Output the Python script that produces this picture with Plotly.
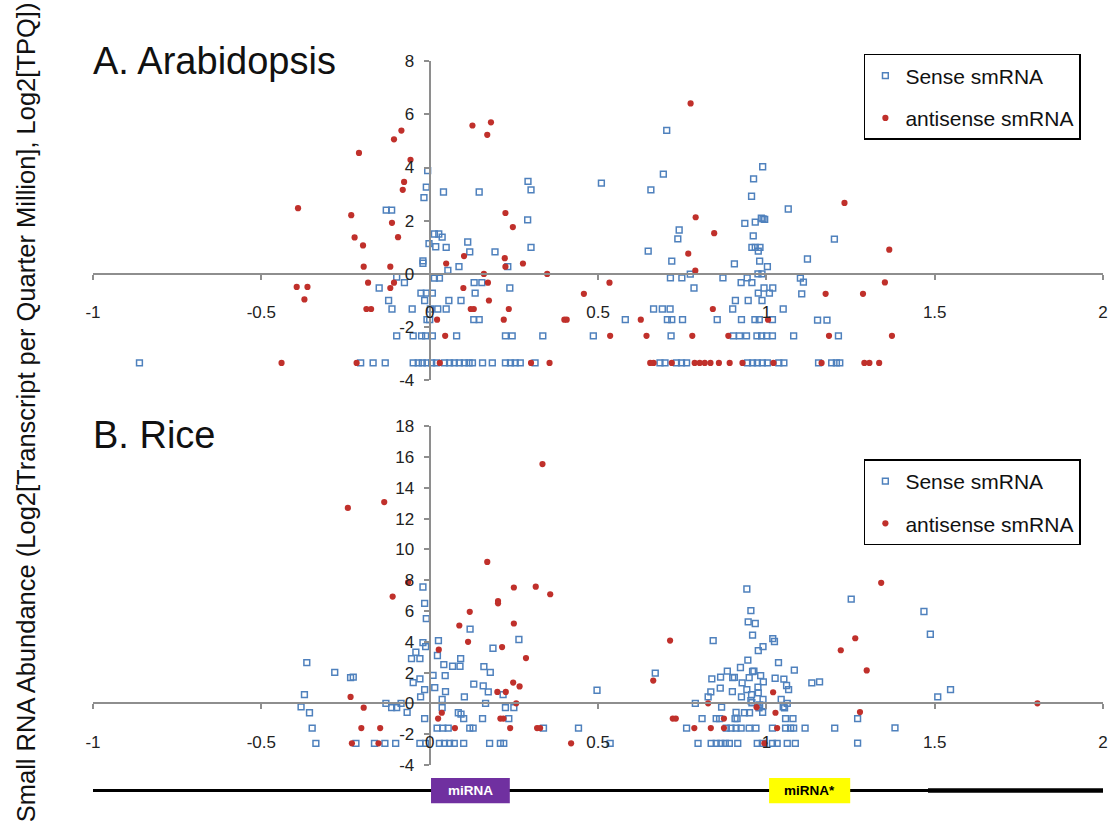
import plotly.graph_objects as go

# ---------------- data ----------------
# Panel A: Arabidopsis
a_sense = [
    (-0.862, -3.35),
    (-0.006, 3.88), (-0.010, 3.26), (-0.017, 2.87), (0.041, 3.08), (0.147, 3.08),
    (-0.129, 2.40), (-0.113, 2.40), (0.014, 1.50), (0.027, 1.50), (0.037, 1.38),
    (-0.002, 1.14), (0.018, 1.02), (0.049, 1.00), (-0.020, 0.49), (-0.020, 0.40),
    (0.054, 0.13), (0.087, 0.27), (0.113, 1.20), (0.119, 0.83), (0.194, 0.83),
    (0.292, 3.48), (0.301, 3.16), (0.291, 2.03), (0.301, 1.00), (0.232, 0.27),
    (-0.098, -0.12), (-0.075, -0.33), (-0.150, -0.53), (-0.122, -1.00), (-0.112, -1.32),
    (-0.052, -1.32), (-0.026, -0.72), (-0.010, -0.72), (0.008, -0.72), (-0.015, -1.00),
    (0.014, -0.16), (0.029, -0.16), (0.002, -1.32), (0.024, -1.32), (0.049, -1.32),
    (0.057, -1.00), (0.093, -1.00), (0.135, -0.72), (0.132, -0.33), (0.155, -0.33),
    (-0.008, -1.72), (0.000, -1.72), (0.131, -1.72), (0.147, -1.72), (0.238, -0.53),
    (-0.098, -2.33), (-0.049, -2.33), (-0.024, -2.33), (-0.012, -2.33), (0.008, -2.33),
    (0.080, -2.33), (0.225, -2.33), (0.245, -2.33), (0.336, -2.33),
    (-0.205, -3.35), (-0.168, -3.35), (-0.132, -3.35), (-0.049, -3.35), (-0.034, -3.35),
    (-0.022, -3.35), (-0.008, -3.35), (0.006, -3.35), (0.020, -3.35), (0.044, -3.35),
    (0.059, -3.35), (0.073, -3.35), (0.088, -3.35), (0.103, -3.35), (0.117, -3.35),
    (0.127, -3.35), (0.157, -3.35), (0.186, -3.35), (0.225, -3.35), (0.240, -3.35),
    (0.254, -3.35), (0.269, -3.35), (0.313, -3.35),
    (0.704, 5.40), (0.510, 3.41), (0.694, 3.75), (0.657, 3.16), (0.989, 4.03),
    (0.962, 3.57), (0.956, 2.92), (1.065, 2.44), (0.936, 1.90), (0.967, 1.95),
    (0.985, 2.10), (0.990, 2.07), (0.995, 2.05), (0.741, 1.65), (0.737, 1.32),
    (0.961, 1.43), (0.957, 1.00), (0.967, 1.00), (0.981, 1.00), (0.976, 0.86),
    (0.649, 0.86), (0.719, 0.48), (0.905, 0.38), (0.980, 0.48), (1.003, 0.27),
    (0.715, -0.15), (0.749, -0.15), (0.774, -0.01), (0.785, -0.53), (0.871, -0.15),
    (0.943, -0.15), (0.925, -0.33), (0.957, -0.33), (0.975, 0.00), (0.987, 0.00),
    (0.993, -0.53), (1.019, -0.53), (0.976, -0.72), (1.009, -0.72), (0.908, -1.00),
    (0.946, -1.00), (0.987, -1.00), (0.665, -1.32), (0.691, -1.32), (0.714, -1.32),
    (0.900, -1.32), (1.050, -1.32), (0.581, -1.72), (0.706, -1.72), (0.719, -1.72),
    (0.751, -1.72), (0.854, -1.72), (0.926, -1.72), (0.966, -1.72), (0.979, -1.72),
    (1.018, -1.72), (0.486, -2.33), (0.717, -2.33), (0.902, -2.33), (0.920, -2.33),
    (0.941, -2.33), (0.972, -2.33), (0.986, -2.33), (1.001, -2.33), (1.018, -2.33),
    (1.081, -2.33),
    (0.684, -3.35), (0.699, -3.35), (0.733, -3.35), (0.748, -3.35), (0.763, -3.35),
    (0.944, -3.35), (0.959, -3.35), (0.973, -3.35), (0.988, -3.35), (1.003, -3.35),
    (1.037, -3.35), (1.052, -3.35),
    (1.202, 1.31), (1.122, 0.56), (1.101, -0.16), (1.110, -0.31), (1.105, -0.75),
    (1.152, -1.74), (1.180, -1.74), (1.214, -2.33),
    (1.155, -3.35), (1.194, -3.35), (1.208, -3.35), (1.218, -3.35),
]
a_antisense = [
    (-0.440, -3.35), (-0.391, 2.47), (-0.395, -0.49), (-0.363, -0.49), (-0.372, -0.96),
    (-0.210, 4.55), (-0.106, 5.06), (-0.084, 5.39), (-0.057, 4.29), (-0.076, 3.46),
    (-0.080, 3.16), (-0.233, 2.21), (-0.112, 1.92), (-0.223, 1.37), (-0.198, 1.07),
    (-0.094, 1.38), (-0.196, 0.27), (-0.117, 0.27), (-0.183, -0.33), (-0.117, -0.53),
    (-0.106, -0.33), (-0.188, -1.32), (-0.174, -1.32), (-0.217, -3.35),
    (0.127, 5.58), (0.182, 5.70), (0.171, 5.23), (0.049, 0.39), (0.102, 0.67),
    (0.161, 0.00), (0.100, -0.53), (0.173, -0.33), (0.176, -1.00), (0.122, -1.32),
    (0.131, -1.32), (0.022, -1.72), (0.046, -2.33), (0.030, -3.35), (0.225, 2.29),
    (0.247, 1.76), (0.223, 0.59), (0.225, 0.27), (0.277, 0.39), (0.235, -1.32),
    (0.220, -1.72), (0.349, 0.00), (0.301, -3.35), (0.356, -3.35),
    (0.775, 6.41), (0.790, 2.13), (0.845, 1.53), (0.768, 0.76), (0.789, 0.12),
    (0.534, -0.33), (0.458, -0.75), (0.400, -1.72), (0.407, -1.72), (0.627, -1.72),
    (0.841, -1.32), (1.005, -1.72), (0.536, -2.33), (0.644, -2.33), (0.780, -2.33),
    (0.887, -2.33),
    (0.655, -3.35), (0.665, -3.35), (0.719, -3.35), (0.787, -3.35), (0.802, -3.35),
    (0.817, -3.35), (0.834, -3.35), (0.859, -3.35), (0.891, -3.35), (0.929, -3.35),
    (1.021, -3.35),
    (1.232, 2.67), (1.365, 0.91), (1.352, -0.32), (1.176, -0.75), (1.287, -0.75),
    (1.186, -2.33), (1.373, -2.33),
    (1.164, -3.35), (1.291, -3.35), (1.306, -3.35), (1.335, -3.35),
]

# Panel B: Rice
b_sense = [
    (-0.365, 2.65), (-0.282, 2.01), (-0.235, 1.67), (-0.227, 1.71), (-0.372, 0.57),
    (-0.382, -0.23), (-0.357, -0.61), (-0.349, -1.61), (-0.338, -2.60),
    (-0.020, 7.56), (-0.015, 6.50), (-0.010, 5.50), (-0.020, 3.94), (-0.012, 3.68),
    (0.026, 4.08), (0.120, 4.83), (0.265, 4.15), (0.188, 3.58), (-0.041, 3.32),
    (-0.054, 2.90), (-0.029, 2.90), (0.023, 3.11), (0.092, 2.90), (0.042, 2.52),
    (0.068, 2.41), (0.090, 2.41), (0.161, 2.39), (0.180, 2.01), (0.010, 1.82),
    (0.046, 1.80), (-0.029, 1.59), (-0.049, 1.35), (0.131, 1.25), (0.159, 1.14),
    (0.174, 0.74), (0.015, 1.02), (-0.015, 0.89), (0.047, 0.76), (-0.027, 0.42),
    (0.103, 0.42), (0.218, 0.57), (-0.130, 0.00), (-0.113, -0.28), (-0.098, -0.28),
    (-0.085, 0.00), (-0.067, -0.59), (0.037, 0.25), (0.037, -0.28), (0.166, 0.00),
    (0.225, -0.28), (0.250, -0.28), (0.085, -0.61), (0.093, -0.70), (0.101, -0.99),
    (0.157, -0.99), (0.235, -0.99), (-0.015, -0.99), (0.022, -1.61), (0.039, -1.61),
    (0.055, -1.61), (0.119, -1.61), (0.129, -1.61), (0.338, -1.61),
    (-0.219, -2.60), (-0.164, -2.60), (-0.133, -2.60), (-0.101, -2.60), (-0.029, -2.60),
    (-0.012, -2.60), (0.029, -2.60), (0.044, -2.60), (0.059, -2.60), (0.073, -2.60),
    (0.101, -2.60), (0.178, -2.60), (0.210, -2.60), (0.220, -2.60),
    (0.942, 7.43), (0.954, 6.03), (0.946, 5.29), (0.967, 5.19), (0.959, 4.44),
    (0.842, 4.08), (1.019, 4.21), (1.024, 4.02), (0.990, 3.68), (0.976, 3.43),
    (0.945, 2.81), (1.036, 2.65), (0.670, 1.97), (0.923, 2.33), (0.884, 2.10),
    (0.900, 1.67), (0.905, 1.69), (0.864, 1.71), (0.838, 1.59), (0.959, 2.07),
    (0.963, 2.09), (0.949, 1.67), (0.983, 1.80), (0.991, 1.40), (0.928, 1.33),
    (1.083, 2.16), (1.026, 1.63), (1.052, 1.57), (0.975, 1.06), (1.060, 1.16),
    (1.135, 1.33), (1.158, 1.40), (0.497, 0.85), (0.863, 0.99), (0.835, 0.74),
    (0.899, 0.76), (0.942, 0.89), (1.066, 0.89), (0.827, 0.42), (0.926, 0.42),
    (0.956, 0.57), (0.976, 0.68), (0.990, 0.25), (0.954, 0.17), (0.957, 0.04),
    (1.044, 0.25), (1.062, 0.00), (0.789, 0.00), (0.867, -0.25), (0.980, -0.10),
    (0.990, -0.17), (0.978, -0.30), (0.989, -0.59), (1.054, -0.30), (1.050, -0.22),
    (0.910, -0.59), (0.935, -0.61), (0.950, -0.61), (0.809, -0.99), (0.851, -0.99),
    (0.861, -0.99), (0.907, -0.99), (0.913, -0.99), (1.057, -0.99), (1.079, -0.99),
    (0.763, -1.61), (0.881, -1.61), (0.895, -1.61), (0.910, -1.61), (0.925, -1.61),
    (0.949, -1.61), (0.969, -1.61), (1.018, -1.61), (1.057, -1.61), (1.072, -1.61),
    (1.081, -1.61), (1.115, -1.61), (1.203, -1.61), (0.442, -1.61),
    (0.536, -2.60), (0.797, -2.60), (0.836, -2.60), (0.851, -2.60), (0.865, -2.60),
    (0.878, -2.60), (0.890, -2.60), (0.915, -2.60), (0.973, -2.60), (0.988, -2.60),
    (1.018, -2.60), (1.032, -2.60), (1.062, -2.60), (1.086, -2.60),
    (1.252, 6.77), (1.468, 5.97), (1.487, 4.49), (1.547, 0.89), (1.509, 0.42),
    (1.271, -0.99), (1.382, -1.59), (1.271, -2.58),
]
b_antisense = [
    (-0.243, 12.70), (-0.135, 13.08), (0.335, 15.55), (0.171, 9.19), (-0.064, 7.87),
    (-0.110, 6.94), (0.250, 7.53), (0.315, 7.58), (0.358, 7.09), (0.203, 6.65),
    (0.203, 6.50), (0.119, 5.95), (0.088, 5.06), (0.250, 5.19), (0.114, 4.00),
    (0.215, 3.66), (0.027, 3.49), (0.286, 2.94), (0.248, 1.35), (0.267, 1.10),
    (0.201, 0.74), (0.226, 0.74), (0.257, 0.00), (-0.235, 0.42), (-0.196, -0.28),
    (0.036, -0.61), (0.025, -0.99), (0.210, -0.99), (0.219, -0.99), (-0.203, -1.61),
    (-0.147, -1.61), (0.075, -1.61), (0.239, -1.61), (0.319, -1.61), (0.328, -1.61),
    (-0.231, -2.60), (-0.152, -2.60),
    (0.714, 4.08), (0.664, 1.48), (1.020, 0.72), (0.827, 0.00), (0.971, -0.25),
    (1.027, -0.61), (0.722, -0.99), (0.731, -0.99), (0.874, -0.99), (0.786, -1.61),
    (0.835, -1.61), (0.874, -1.61), (1.032, -1.61), (0.420, -2.60), (0.994, -2.60),
    (1.341, 7.83), (1.264, 4.23), (1.221, 3.45), (1.298, 2.14), (1.278, -0.57),
    (1.805, 0.00),
]

x_tickvals = [-1, -0.5, 0, 0.5, 1, 1.5, 2]
x_ticktext = ["-1", "-0.5", "0", "0.5", "1", "1.5", "2"]
a_y_tickvals = [-4, -2, 0, 2, 4, 6, 8]
b_y_tickvals = [-4, -2, 0, 2, 4, 6, 8, 10, 12, 14, 16, 18]
series_names = ["Sense smRNA", "antisense smRNA"]
panel_titles = ["A. Arabidopsis", "B. Rice"]
y_title = "Small RNA Abundance (Log2[Transcript per Quarter Million], Log2[TPQ])"
gene_labels = ["miRNA", "miRNA*"]
gene_spans = [(0.004, 0.238), (1.008, 1.249)]

# ---------------- layout geometry ----------------
W, H = 1113, 826
FONT = "Liberation Sans, Arial, sans-serif"
BLUE = "#4F81BD"
RED = "#C0302B"
AXC = "#8E8E8E"

def py(p):
    return 1 - p / H

xdom = [86 / W, 1108 / W]
a_dom = [py(380.0), py(53.4)]
b_dom = [py(773.7), py(427.2)]
a_range = [-4, 8]
b_range = [-4, 18]
yaxis_pos = xdom[0] + (xdom[1] - xdom[0]) * (0 - (-1)) / 3

fig = go.Figure()

def add_series(pairs, name, xa, ya, legend, is_sense, group):
    xs = [p[0] for p in pairs]
    ys = [p[1] for p in pairs]
    if is_sense:
        marker = dict(symbol="square-open", size=5.8, color=BLUE, line=dict(width=1.5, color=BLUE))
    else:
        marker = dict(symbol="circle", size=6.2, color=RED, line=dict(width=0))
    fig.add_trace(go.Scatter(x=xs, y=ys, mode="markers", name=name, marker=marker,
                             xaxis=xa, yaxis=ya, legend=legend, legendgroup=group,
                             cliponaxis=False))

add_series(a_sense, series_names[0], "x", "y", "legend", True, "as")
add_series(a_antisense, series_names[1], "x", "y", "legend", False, "aa")
add_series(b_sense, series_names[0], "x2", "y2", "legend2", True, "bs")
add_series(b_antisense, series_names[1], "x2", "y2", "legend2", False, "ba")

def xax(dom_y, yr):
    pos = dom_y[0] + (dom_y[1] - dom_y[0]) * (0 - yr[0]) / (yr[1] - yr[0])
    return dict(domain=xdom, range=[-1, 2], anchor="free", position=pos,
                showline=True, linecolor=AXC, linewidth=2, ticks="outside", ticklen=5,
                tickcolor=AXC, tickwidth=1.5, tickvals=x_tickvals, ticktext=x_ticktext,
                tickfont=dict(size=17, family=FONT, color="#222"), ticklabelstandoff=18,
                showgrid=False, zeroline=False)

def yax(dom_y, yr, tv):
    return dict(domain=dom_y, range=yr, anchor="free", position=yaxis_pos,
                showline=True, linecolor=AXC, linewidth=2, ticks="outside", ticklen=5,
                tickcolor=AXC, tickwidth=1.5, tickvals=tv, ticktext=[str(v) for v in tv],
                tickfont=dict(size=17, family=FONT, color="#222"), ticklabelstandoff=6,
                showgrid=False, zeroline=False)

legend_common = dict(xanchor="left", yanchor="top", bgcolor="white", bordercolor="black",
                     borderwidth=1.5, font=dict(size=21, family=FONT, color="#111"),
                     traceorder="grouped", tracegroupgap=12)

fig.update_layout(
    width=W, height=H, margin=dict(l=0, r=0, t=0, b=0),
    paper_bgcolor="white", plot_bgcolor="white",
    xaxis=xax(a_dom, a_range), yaxis=yax(a_dom, a_range, a_y_tickvals),
    xaxis2=xax(b_dom, b_range), yaxis2=yax(b_dom, b_range, b_y_tickvals),
    legend=dict(x=866 / W, y=py(46), **legend_common),
    legend2=dict(x=866 / W, y=py(461), **legend_common),
    showlegend=True,
)

annotations = [
    dict(text=panel_titles[0], x=84 / W, y=py(53), xref="paper", yref="paper",
         xanchor="left", yanchor="middle", showarrow=False,
         font=dict(size=38, family=FONT, color="#111")),
    dict(text=panel_titles[1], x=84 / W, y=py(436), xref="paper", yref="paper",
         xanchor="left", yanchor="middle", showarrow=False,
         font=dict(size=38, family=FONT, color="#111")),
    dict(text=y_title, x=18 / W, y=py(413), xref="paper", yref="paper",
         xanchor="center", yanchor="middle", textangle=-90, showarrow=False,
         font=dict(size=25.5, family=FONT, color="#111")),
]

bar_y = py(800)
shapes = [
    dict(type="line", xref="x2", yref="paper", x0=-1.012, x1=2.0, y0=bar_y, y1=bar_y,
         line=dict(color="black", width=3)),
    dict(type="line", xref="x2", yref="paper", x0=1.48, x1=2.0, y0=bar_y, y1=bar_y,
         line=dict(color="black", width=4.5)),
]
box_colors = ["#7030A0", "#FFFF00"]
text_colors = ["white", "black"]
for (x0, x1), lab, bc, tc in zip(gene_spans, gene_labels, box_colors, text_colors):
    shapes.append(dict(type="rect", xref="x2", yref="paper", x0=x0, x1=x1,
                       y0=py(813), y1=py(787), fillcolor=bc, line=dict(width=0)))
    annotations.append(dict(text="<b>" + lab + "</b>", x=(x0 + x1) / 2, y=bar_y,
                            xref="x2", yref="paper",
                            xanchor="center", yanchor="middle", showarrow=False,
                            font=dict(size=13.5, family="Liberation Sans Narrow, " + FONT, color=tc)))

fig.update_layout(annotations=annotations, shapes=shapes)

fig.write_html("out.html", config={"displayModeBar": False},
               post_script="document.body.style.margin='0px';document.body.style.overflow='hidden';")
